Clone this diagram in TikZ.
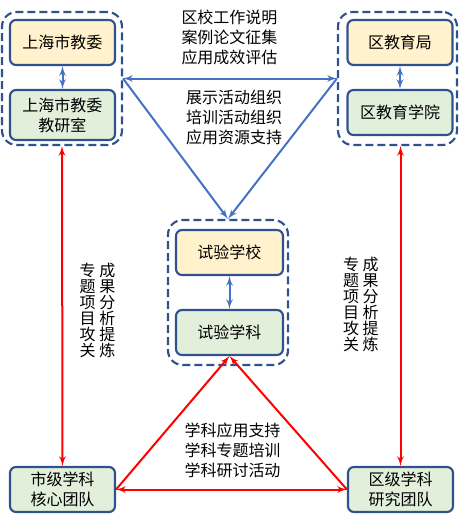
\documentclass[tikz,border=0pt]{standalone}
\usepackage{fontspec}
\setmainfont{Noto Sans CJK SC}
\usetikzlibrary{arrows,positioning}

\definecolor{boxline}{RGB}{47,82,143}
\definecolor{boxyellow}{RGB}{255,242,204}
\definecolor{boxgreen}{RGB}{226,239,218}
\definecolor{linkblue}{RGB}{68,114,196}

\begin{document}
\begin{tikzpicture}[
    x=0.75pt, y=-0.75pt,
    block/.style={rectangle, rounded corners=4.5pt, draw=boxline, line width=1.6pt, minimum width=78.75pt, minimum height=33.75pt, align=center, inner sep=2pt, font=\fontsize{12}{15}\selectfont},
    blockfill/.style={block, fill=boxyellow},
    blockgreen/.style={block, fill=boxgreen},
    group/.style={rectangle, rounded corners=11pt, draw=boxline, dash pattern=on 6pt off 3pt, line width=1.6pt},
    note/.style={align=center, inner sep=0pt, font=\fontsize{12}{15}\selectfont},
    vnote/.style={align=center, inner sep=0pt, text width=12pt, font=\fontsize{12}{12}\selectfont},
    line/.style={draw, linkblue, line width=1.5pt},
    redline/.style={draw, red, line width=1.5pt}
]
\useasboundingbox (0,0) rectangle (460,519);

% Define nodes
\node[group, minimum width=90pt, minimum height=99.75pt] (cityg) at (62,78.5) {};
\node[blockfill] (citybureau) at (62.5,42.5) {上海市教委};
\node[blockgreen, minimum height=37.5pt] (cityoffice) at (62.5,115) {上海市教委\\教研室};

\node[group, minimum width=89.25pt, minimum height=99.75pt] (distg) at (397.5,78.5) {};
\node[blockfill] (distbureau) at (400,42.5) {区教育局};
\node[blockgreen] (distcollege) at (400,112.5) {区教育学院};

\node[group, minimum width=90pt, minimum height=108.75pt] (pilotg) at (228,292.5) {};
\node[blockfill, minimum width=80.25pt] (pilotschool) at (229.5,252.5) {试验学校};
\node[blockgreen, minimum width=80.25pt] (pilotsubject) at (229.5,332.5) {试验学科};

\node[blockgreen] (cityteam) at (62.5,489.5) {市级学科\\核心团队};
\node[blockgreen] (distteam) at (400.5,489.5) {区级学科\\研究团队};

\node[note] (topnote) at (229.5,37) {区校工作说明\\案例论文征集\\应用成效评估};
\node[note] (midnote) at (234,117.5) {展示活动组织\\培训活动组织\\应用资源支持};
\node[note] (lownote) at (232.5,450) {学科应用支持\\学科专题培训\\学科研讨活动};

\node[vnote] (leftcol1) at (87.5,310.5) {专\\题\\项\\目\\攻\\关};
\node[vnote] (leftcol2) at (107.5,310.5) {成\\果\\分\\析\\提\\炼};
\node[vnote] (rightcol1) at (351,304.5) {专\\题\\项\\目\\攻\\关};
\node[vnote] (rightcol2) at (370.5,304.5) {成\\果\\分\\析\\提\\炼};

% Connect nodes
\draw [line, latex'-latex'] (citybureau) -- (cityoffice);
\draw [line, latex'-latex'] (distbureau) -- (distcollege);
\draw [line, latex'-latex'] (pilotschool) -- (pilotsubject);
\draw [line, latex'-latex'] (cityg.east) -- (distg.west);
\draw [line, -latex'] (cityg.east) -- (pilotg.north);
\draw [line, -latex'] (distg.west) -- (pilotg.north);

\draw [redline, latex'-latex'] (cityg.south) -- (cityteam.north);
\draw [redline, latex'-latex'] (distteam.north |- distg.south) -- (distteam.north);
\draw [redline, latex'-latex'] (cityteam.east) -- (distteam.west);
\draw [redline, -latex'] (cityteam.east) -- (pilotsubject.south);
\draw [redline, -latex'] (distteam.west) -- (pilotsubject.south);

\end{tikzpicture}
\end{document}
